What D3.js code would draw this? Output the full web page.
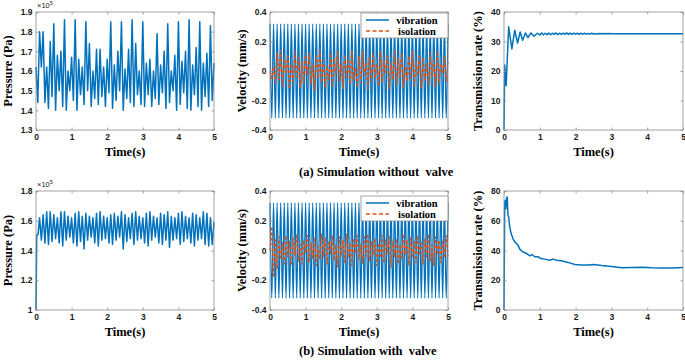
<!DOCTYPE html>
<html>
<head>
<meta charset="utf-8">
<script src="https://cdn.jsdelivr.net/npm/d3@7"></script>
<style>
  body { margin: 0; background: #fff; }
</style>
</head>
<body>
<script>
const totalWidth = 685;
const totalHeight = 360;

// time axis shared by every panel
const timeTicks = [0, 1, 2, 3, 4, 5];

// pressure without valve (x1e5 Pa), one reading every 0.05 s from 0 to 5 s
const pressureA = [
  1.62, 1.44, 1.80, 1.62, 1.80, 1.44, 1.62, 1.41, 1.75, 1.47,
  1.84, 1.40, 1.68, 1.50, 1.70, 1.42, 1.86, 1.40, 1.60, 1.50,
  1.67, 1.45, 1.86, 1.40, 1.66, 1.48, 1.62, 1.43, 1.85, 1.50,
  1.74, 1.42, 1.60, 1.46, 1.71, 1.43, 1.71, 1.47, 1.62, 1.42,
  1.66, 1.49, 1.85, 1.41, 1.63, 1.45, 1.70, 1.50, 1.85, 1.40,
  1.61, 1.46, 1.71, 1.44, 1.86, 1.42, 1.74, 1.48, 1.60, 1.43,
  1.85, 1.42, 1.64, 1.48, 1.66, 1.42, 1.60, 1.46, 1.79, 1.43,
  1.63, 1.49, 1.70, 1.41, 1.84, 1.44, 1.60, 1.50, 1.68, 1.40,
  1.85, 1.43, 1.65, 1.49, 1.70, 1.41, 1.86, 1.40, 1.63, 1.48,
  1.72, 1.42, 1.85, 1.40, 1.64, 1.47, 1.69, 1.42, 1.83, 1.45,
  1.64
];
const pressureATicks = [1.3, 1.4, 1.5, 1.6, 1.7, 1.8, 1.9];

// pressure with valve (x1e5 Pa): start-up, then a reading every 0.05 s from 0.1 s
const pressureBStartT = [0, 0.02, 0.06];
const pressureBStart = [1.00, 1.50, 1.51];
const pressureB = [
  1.62, 1.47, 1.64, 1.45, 1.66, 1.44, 1.66, 1.46, 1.64, 1.48,
  1.62, 1.45, 1.66, 1.43, 1.66, 1.47, 1.63, 1.49, 1.62, 1.45,
  1.65, 1.43, 1.66, 1.46, 1.63, 1.41, 1.65, 1.47, 1.63, 1.49,
  1.62, 1.45, 1.65, 1.43, 1.66, 1.47, 1.63, 1.48, 1.62, 1.45,
  1.64, 1.44, 1.65, 1.47, 1.63, 1.49, 1.66, 1.41, 1.64, 1.46,
  1.62, 1.48, 1.65, 1.44, 1.66, 1.47, 1.63, 1.48, 1.62, 1.45,
  1.65, 1.43, 1.66, 1.47, 1.63, 1.49, 1.62, 1.45, 1.65, 1.44,
  1.64, 1.47, 1.66, 1.42, 1.63, 1.47, 1.62, 1.48, 1.65, 1.44,
  1.66, 1.46, 1.63, 1.48, 1.62, 1.45, 1.65, 1.43, 1.64, 1.47,
  1.62, 1.48, 1.66, 1.44, 1.65, 1.43, 1.62, 1.44, 1.59
];
const pressureBTicks = [1, 1.2, 1.4, 1.6, 1.8];

// velocity (mm/s), one reading every 0.05 s from 0 to 5 s
const vibration = [
  0.32, -0.32, 0.32, -0.32, 0.32, -0.32, 0.32, -0.32, 0.32, -0.32,
  0.32, -0.32, 0.32, -0.32, 0.32, -0.32, 0.32, -0.32, 0.32, -0.32,
  0.32, -0.32, 0.32, -0.32, 0.32, -0.32, 0.32, -0.32, 0.32, -0.32,
  0.32, -0.32, 0.32, -0.32, 0.32, -0.32, 0.32, -0.32, 0.32, -0.32,
  0.32, -0.32, 0.32, -0.32, 0.32, -0.32, 0.32, -0.32, 0.32, -0.32,
  0.32, -0.32, 0.32, -0.32, 0.32, -0.32, 0.32, -0.32, 0.32, -0.32,
  0.32, -0.32, 0.32, -0.32, 0.32, -0.32, 0.32, -0.32, 0.32, -0.32,
  0.32, -0.32, 0.32, -0.32, 0.32, -0.32, 0.32, -0.32, 0.32, -0.32,
  0.32, -0.32, 0.32, -0.32, 0.32, -0.32, 0.32, -0.32, 0.32, -0.32,
  0.32, -0.32, 0.32, -0.32, 0.32, -0.32, 0.32, -0.32, 0.32, -0.32,
  0.32
];
const isolationA = [
  0, -0.05, 0.03, -0.08, 0.12, -0.06, 0.14, -0.10, 0.08, -0.02,
  0.10, -0.12, 0.05, -0.07, 0.13, -0.04, 0.09, -0.11, 0.06, -0.08,
  0.11, -0.03, 0.12, -0.09, 0.04, -0.13, 0.10, -0.05, 0.14, -0.08,
  0.07, -0.11, 0.03, -0.06, 0.12, -0.10, 0.09, -0.02, 0.13, -0.07,
  0.05, -0.12, 0.11, -0.04, 0.08, -0.09, 0.14, -0.06, 0.02, -0.11,
  0.10, -0.08, 0.13, -0.03, 0.06, -0.12, 0.09, -0.07, 0.12, -0.05,
  0.04, -0.10, 0.13, -0.08, 0.07, -0.02, 0.11, -0.12, 0.05, -0.06,
  0.14, -0.09, 0.08, -0.04, 0.12, -0.11, 0.03, -0.07, 0.10, -0.05,
  0.13, -0.10, 0.06, -0.03, 0.11, -0.12, 0.09, -0.06, 0.04, -0.09,
  0.12, -0.04, 0.07, -0.11, 0.13, -0.08, 0.05, -0.02, 0.10, -0.07,
  0.06
];
const isolationB = [
  0, 0.16, -0.18, 0.07, -0.12, 0.09, -0.06, 0.05, -0.09, 0.10,
  -0.04, 0.06, -0.10, 0.08, -0.03, 0.11, -0.07, 0.04, -0.09, 0.07,
  -0.02, 0.10, -0.08, 0.05, -0.05, 0.09, -0.10, 0.03, -0.06, 0.11,
  -0.04, 0.08, -0.09, 0.06, -0.02, 0.10, -0.07, 0.04, -0.11, 0.09,
  -0.03, 0.07, -0.08, 0.11, -0.05, 0.05, -0.10, 0.08, -0.02, 0.10,
  -0.06, 0.04, -0.09, 0.09, -0.04, 0.11, -0.07, 0.06, -0.03, 0.08,
  -0.10, 0.05, -0.05, 0.10, -0.08, 0.07, -0.02, 0.09, -0.11, 0.06,
  -0.04, 0.08, -0.09, 0.04, -0.06, 0.11, -0.03, 0.07, -0.10, 0.09,
  -0.05, 0.06, -0.08, 0.10, -0.02, 0.05, -0.09, 0.08, -0.04, 0.11,
  -0.07, 0.04, -0.10, 0.09, -0.03, 0.07, -0.08, 0.06, -0.05, 0.10,
  -0.04
];
const velocityTicks = [-0.4, -0.2, 0, 0.2, 0.4];
const legendLabels = ["vibration", "isolation"];

// transmission rate without valve (%): transient, ripple every 0.05 s from 1.05 s, tail
const transAT = [0, 0.02, 0.06, 0.13, 0.22, 0.30, 0.38, 0.45, 0.52, 0.60, 0.67, 0.75, 0.84, 0.93, 1.0];
const transA = [0, 22, 15, 35, 27.5, 33.8, 29.5, 33.2, 30.4, 32.9, 31.3, 32.9, 31.8, 32.8, 32.2];
const transARipple = [
  32.9, 32.3, 32.8, 32.3, 32.9, 32.3, 32.8, 32.4, 32.9, 32.3,
  32.8, 32.4, 32.8, 32.4, 32.9, 32.4, 32.8, 32.4, 32.8, 32.5,
  32.8, 32.4, 32.8, 32.5, 32.8, 32.5, 32.7, 32.5, 32.8, 32.5,
  32.7, 32.5, 32.7, 32.6, 32.7, 32.6, 32.7, 32.6, 32.7, 32.6
];
const transATailT = [3.5, 4.0, 4.5, 5.0];
const transATail = [32.65, 32.65, 32.6, 32.6];
const transATicks = [0, 10, 20, 30, 40];

// transmission rate with valve (%)
const transBT = [
  0, 0.02, 0.035, 0.05, 0.075, 0.09, 0.11, 0.13, 0.16, 0.2,
  0.25, 0.3, 0.35, 0.39, 0.44, 0.53, 0.63, 0.72, 0.78, 0.86,
  0.95, 1.03, 1.14, 1.28, 1.37, 1.47, 1.6, 1.79, 1.98, 2.17,
  2.36, 2.5, 2.73, 3.0, 3.29, 3.57, 3.85, 4.13, 4.41, 4.69, 5.0
];
const transB = [
  0, 72.6, 73.7, 68, 75.3, 76, 63.7, 62.6, 55.9, 51.4,
  48, 45.8, 44.7, 43.6, 40.9, 39, 38, 36.4, 37.3, 35.8,
  35.8, 34.6, 34.2, 33.5, 34.2, 33.5, 33.1, 32, 30.6, 30.2,
  30.2, 30.6, 29.9, 29.3, 28.4, 28.6, 28.8, 28.4, 28.2, 28.2, 28.6
];
const transBTicks = [0, 20, 40, 60, 80];

const captions = ["(a) Simulation without  valve", "(b) Simulation with  valve"];

const blue = "#0072BD";
const orange = "#D95319";
const serif = "'Liberation Serif', 'Times New Roman', serif";
const sans = "'Liberation Sans', Arial, sans-serif";

// pair a list of readings with its time grid
const onGrid = (start, step, vals) => vals.map((v, i) => [start + i * step, v]);
const zip = (ts, vals) => ts.map((t, i) => [t, vals[i]]);
const fmt = d => String(+d.toFixed(1));

const svg = d3.select("body")
  .append("svg")
  .attr("width", totalWidth)
  .attr("height", totalHeight);

function panel(cfg) {
  const { left, top, w, h } = cfg;
  const g = svg.append("g").attr("transform", `translate(${left}, ${top})`);

  const x = d3.scaleLinear().domain([0, 5]).range([0, w]);
  const y = d3.scaleLinear().domain(cfg.yDomain).range([h, 0]);

  const line = d3.line().x(d => x(d[0])).y(d => y(d[1]));

  cfg.series.forEach(s => {
    g.append("path")
      .datum(s.points)
      .attr("fill", "none")
      .attr("stroke", s.color)
      .attr("stroke-width", s.width || 1.5)
      .attr("stroke-dasharray", s.dash || null)
      .attr("stroke-linejoin", "round")
      .attr("d", line.curve(s.curve || d3.curveLinear));
  });

  // box and inward ticks on all four sides, MATLAB style
  g.append("rect")
    .attr("width", w).attr("height", h)
    .attr("fill", "none")
    .attr("stroke", "#8c8c8c")
    .attr("stroke-width", 0.8);

  const styleAxis = sel => {
    sel.select(".domain").remove();
    sel.selectAll(".tick line").attr("stroke", "#8c8c8c").attr("stroke-width", 0.8);
    sel.selectAll(".tick text")
      .attr("fill", "#1a1a1a")
      .style("font-family", sans)
      .style("font-weight", "bold")
      .style("font-size", "8.5px");
  };

  g.append("g").attr("transform", `translate(0, ${h})`)
    .call(d3.axisBottom(x).tickValues(timeTicks).tickFormat(fmt).tickSizeInner(-2.5).tickSizeOuter(0).tickPadding(4))
    .call(styleAxis);
  g.append("g")
    .call(d3.axisTop(x).tickValues(timeTicks).tickFormat("").tickSizeInner(-2.5).tickSizeOuter(0))
    .call(styleAxis);
  g.append("g")
    .call(d3.axisLeft(y).tickValues(cfg.yTicks).tickFormat(fmt).tickSizeInner(-2.5).tickSizeOuter(0).tickPadding(3.5))
    .call(styleAxis);
  g.append("g").attr("transform", `translate(${w}, 0)`)
    .call(d3.axisRight(y).tickValues(cfg.yTicks).tickFormat("").tickSizeInner(-2.5).tickSizeOuter(0))
    .call(styleAxis);

  g.append("text")
    .attr("x", w / 2)
    .attr("y", h + 26)
    .attr("text-anchor", "middle")
    .style("font-family", serif)
    .style("font-weight", "bold")
    .style("font-size", "12.5px")
    .text("Time(s)");

  g.append("text")
    .attr("transform", "rotate(-90)")
    .attr("x", -h / 2)
    .attr("y", -cfg.yTitleOffset)
    .attr("text-anchor", "middle")
    .style("font-family", serif)
    .style("font-weight", "bold")
    .style("font-size", "12.5px")
    .text(cfg.yTitle);

  if (cfg.exponent) {
    const t = g.append("text")
      .attr("x", 1)
      .attr("y", -4)
      .attr("fill", "#1a1a1a")
      .style("font-family", sans)
      .style("font-size", "7.5px")
      .text("\u00d710");
    t.append("tspan").attr("dy", -3).style("font-size", "5.5px").text("5");
  }

  if (cfg.legend) {
    const lg = g.append("g").attr("transform", `translate(${w - 87}, ${cfg.legend})`);
    lg.append("rect")
      .attr("width", 87).attr("height", 25)
      .attr("fill", "#fff")
      .attr("stroke", "#8c8c8c")
      .attr("stroke-width", 0.8);
    [[blue, null], [orange, "4,2.5"]].forEach(([c, dash], i) => {
      const yy = 7 + i * 11;
      lg.append("line")
        .attr("x1", 5).attr("x2", 28).attr("y1", yy).attr("y2", yy)
        .attr("stroke", c).attr("stroke-width", 1.5)
        .attr("stroke-dasharray", dash);
      lg.append("text")
        .attr("x", 56).attr("y", yy + 3.5)
        .attr("text-anchor", "middle")
        .style("font-family", serif)
        .style("font-weight", "bold")
        .style("font-size", "10.5px")
        .text(legendLabels[i]);
    });
  }
}

const rows = [
  { top: 12, h: 118 },
  { top: 191, h: 119 }
];

// (a) without valve
panel({
  left: 36, top: rows[0].top, w: 178, h: rows[0].h,
  yDomain: [1.3, 1.9], yTicks: pressureATicks, yTitle: "Pressure (Pa)", yTitleOffset: 24,
  exponent: true,
  series: [{ points: onGrid(0, 0.05, pressureA), color: blue }]
});
panel({
  left: 270, top: rows[0].top, w: 178, h: rows[0].h,
  yDomain: [-0.4, 0.4], yTicks: velocityTicks, yTitle: "Velocity (mm/s)", yTitleOffset: 24,
  legend: 1,
  series: [
    { points: onGrid(0, 0.05, vibration), color: blue, width: 1.3, curve: d3.curveMonotoneX },
    { points: onGrid(0, 0.05, isolationA), color: orange, dash: "3,2" }
  ]
});
panel({
  left: 504, top: rows[0].top, w: 179, h: rows[0].h,
  yDomain: [0, 40], yTicks: transATicks, yTitle: "Transmission rate (%)", yTitleOffset: 22,
  series: [{
    points: zip(transAT, transA)
      .concat(onGrid(1.05, 0.05, transARipple))
      .concat(zip(transATailT, transATail)),
    color: blue
  }]
});

// (b) with valve
panel({
  left: 36, top: rows[1].top, w: 178, h: rows[1].h,
  yDomain: [1, 1.8], yTicks: pressureBTicks, yTitle: "Pressure (Pa)", yTitleOffset: 24,
  exponent: true,
  series: [{ points: zip(pressureBStartT, pressureBStart).concat(onGrid(0.1, 0.05, pressureB)), color: blue }]
});
panel({
  left: 270, top: rows[1].top, w: 178, h: rows[1].h,
  yDomain: [-0.4, 0.4], yTicks: velocityTicks, yTitle: "Velocity (mm/s)", yTitleOffset: 24,
  legend: 5,
  series: [
    { points: onGrid(0, 0.05, vibration), color: blue, width: 1.3, curve: d3.curveMonotoneX },
    { points: onGrid(0, 0.05, isolationB), color: orange, dash: "3,2" }
  ]
});
panel({
  left: 504, top: rows[1].top, w: 179, h: rows[1].h,
  yDomain: [0, 80], yTicks: transBTicks, yTitle: "Transmission rate (%)", yTitleOffset: 22,
  series: [{ points: zip(transBT, transB), color: blue }]
});

svg.selectAll(".caption")
  .data(captions)
  .enter()
  .append("text")
  .attr("class", "caption")
  .attr("x", 299)
  .attr("y", (d, i) => [176, 355][i])
  .style("font-family", serif)
  .style("font-weight", "bold")
  .style("font-size", "12.5px")
  .style("white-space", "pre")
  .text(d => d);
</script>
</body>
</html>
